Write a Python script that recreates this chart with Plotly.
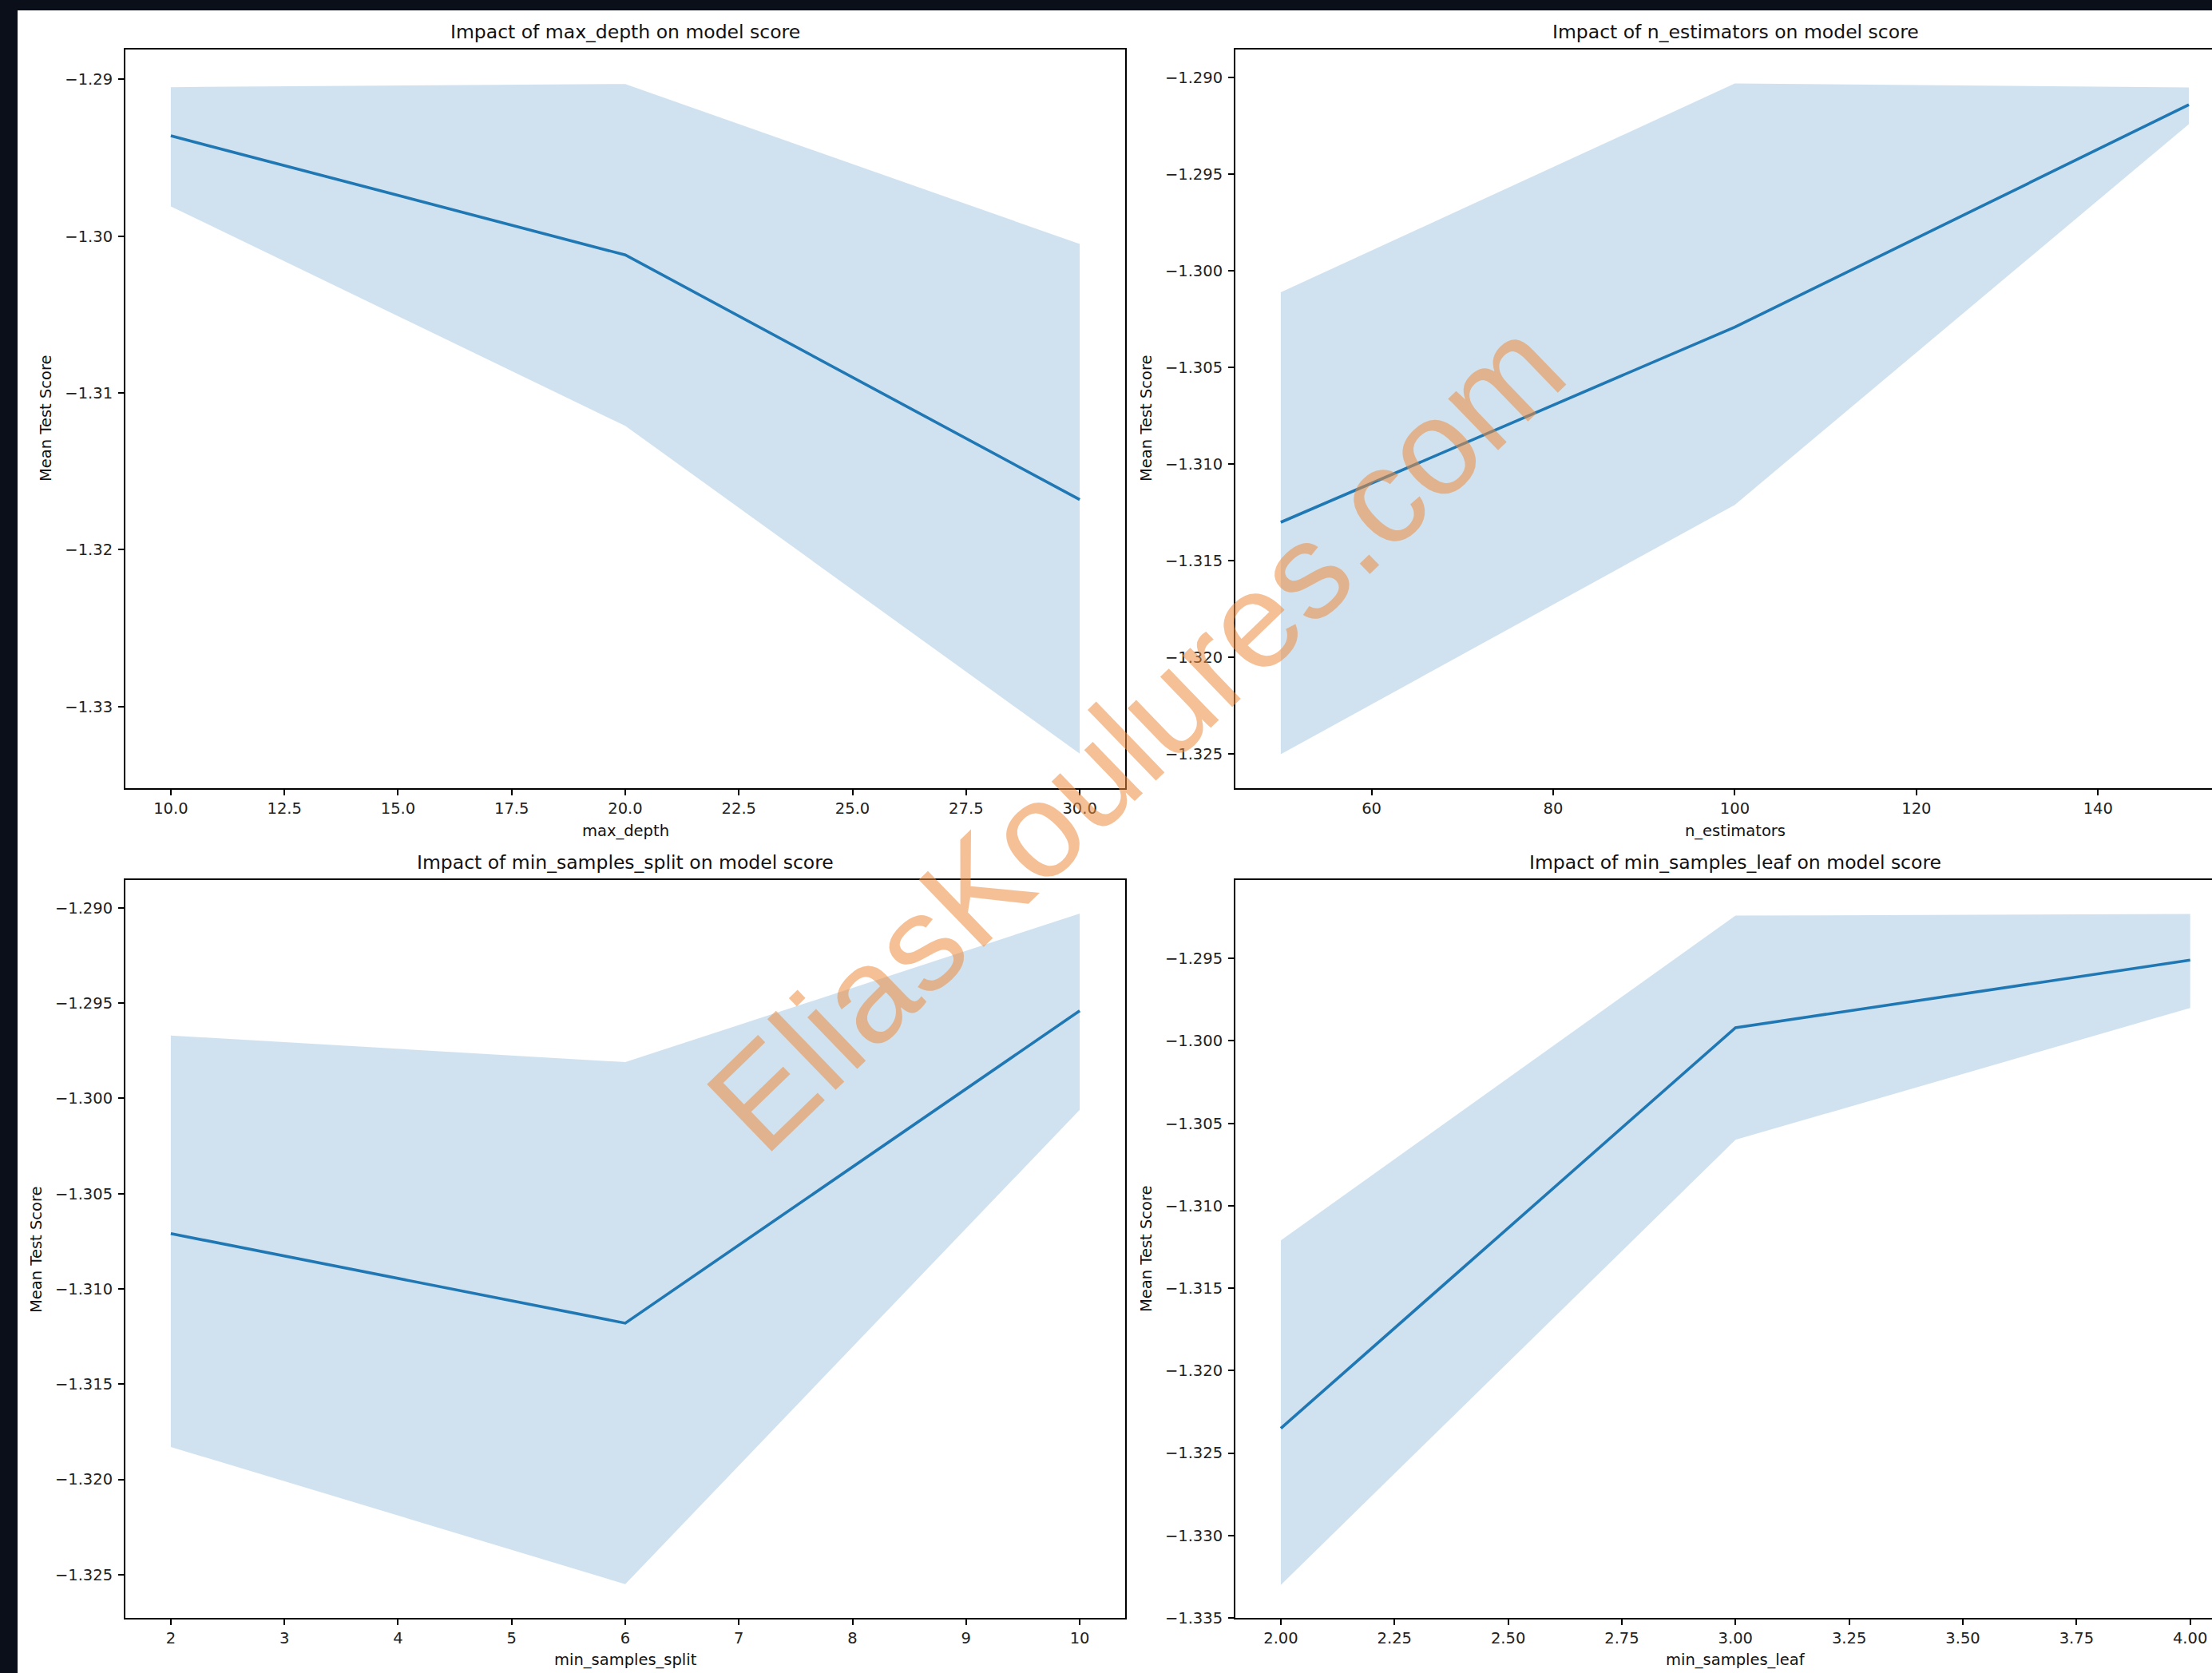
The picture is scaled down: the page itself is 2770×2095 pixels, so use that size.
import plotly.graph_objects as go

W, H = 2770, 2095

# ---------------- data ----------------
MAX_DEPTH = [10, 20, 30]
MAX_DEPTH_MEAN = [-1.2936, -1.3012, -1.3168]
MAX_DEPTH_UPPER = [-1.2905, -1.2903, -1.3005]
MAX_DEPTH_LOWER = [-1.2981, -1.3121, -1.3330]

N_EST = [50, 100, 150]
N_EST_MEAN = [-1.3130, -1.3029, -1.2914]
N_EST_UPPER = [-1.3011, -1.2903, -1.2905]
N_EST_LOWER = [-1.3250, -1.3121, -1.2924]

MSS = [2, 6, 10]
MSS_MEAN = [-1.3071, -1.3118, -1.2954]
MSS_UPPER = [-1.2967, -1.2981, -1.2903]
MSS_LOWER = [-1.3183, -1.3255, -1.3006]

MSL = [2, 3, 4]
MSL_MEAN = [-1.3235, -1.2992, -1.2951]
MSL_UPPER = [-1.3121, -1.2924, -1.2923]
MSL_LOWER = [-1.3330, -1.3060, -1.2980]

# ---------------- tick labels ----------------
TL_XTICKS = [10, 12.5, 15, 17.5, 20, 22.5, 25, 27.5, 30]
TL_XTEXT = ["10.0", "12.5", "15.0", "17.5", "20.0", "22.5", "25.0", "27.5", "30.0"]
TL_YTICKS = [-1.29, -1.30, -1.31, -1.32, -1.33]
TL_YTEXT = ["\u22121.29", "\u22121.30", "\u22121.31", "\u22121.32", "\u22121.33"]

TR_XTICKS = [60, 80, 100, 120, 140]
TR_XTEXT = ["60", "80", "100", "120", "140"]
TR_YTICKS = [-1.290, -1.295, -1.300, -1.305, -1.310, -1.315, -1.320, -1.325]
TR_YTEXT = ["\u22121.290", "\u22121.295", "\u22121.300", "\u22121.305",
            "\u22121.310", "\u22121.315", "\u22121.320", "\u22121.325"]

BL_XTICKS = [2, 3, 4, 5, 6, 7, 8, 9, 10]
BL_XTEXT = ["2", "3", "4", "5", "6", "7", "8", "9", "10"]
BL_YTICKS = TR_YTICKS
BL_YTEXT = TR_YTEXT

BR_XTICKS = [2.0, 2.25, 2.5, 2.75, 3.0, 3.25, 3.5, 3.75, 4.0]
BR_XTEXT = ["2.00", "2.25", "2.50", "2.75", "3.00", "3.25", "3.50", "3.75", "4.00"]
BR_YTICKS = [-1.295, -1.300, -1.305, -1.310, -1.315, -1.320, -1.325, -1.330, -1.335]
BR_YTEXT = ["\u22121.295", "\u22121.300", "\u22121.305", "\u22121.310", "\u22121.315",
            "\u22121.320", "\u22121.325", "\u22121.330", "\u22121.335"]

TITLES = ["Impact of max_depth on model score",
          "Impact of n_estimators on model score",
          "Impact of min_samples_split on model score",
          "Impact of min_samples_leaf on model score"]
XLABELS = ["max_depth", "n_estimators", "min_samples_split", "min_samples_leaf"]
YLABEL = "Mean Test Score"
WATERMARK = "EliasKoulures.com"

LINE_C = "#1f77b4"
FILL_C = "rgba(31,119,180,0.21)"
FONT = "DejaVu Sans"


def px_x(p):
    return p / W


def px_y(p):
    return 1 - p / H


fig = go.Figure()

panels = [
    (MAX_DEPTH, MAX_DEPTH_MEAN, MAX_DEPTH_UPPER, MAX_DEPTH_LOWER, ""),
    (N_EST, N_EST_MEAN, N_EST_UPPER, N_EST_LOWER, "2"),
    (MSS, MSS_MEAN, MSS_UPPER, MSS_LOWER, "3"),
    (MSL, MSL_MEAN, MSL_UPPER, MSL_LOWER, "4"),
]

for xs, mean, up, lo, s in panels:
    fig.add_trace(go.Scatter(
        x=list(xs) + list(xs)[::-1], y=list(up) + list(lo)[::-1],
        fill="toself", fillcolor=FILL_C, line=dict(width=0), mode="lines",
        hoverinfo="skip", showlegend=False, xaxis="x" + s, yaxis="y" + s))
    fig.add_trace(go.Scatter(
        x=xs, y=mean, mode="lines", line=dict(color=LINE_C, width=3.6),
        showlegend=False, xaxis="x" + s, yaxis="y" + s))

# panel geometry (pixels)
LEFT_X = (157, 1409)
RIGHT_X = (1547, 2770)
TOP_Y = (62, 987)
BOT_Y = (1102, 2026)

common = dict(showline=True, linecolor="black", linewidth=2,
              ticks="outside", ticklen=7, tickwidth=2, tickcolor="black",
              showgrid=False, zeroline=False, automargin=False,
              tickfont=dict(family=FONT, size=19.5, color="#222222"))


def xax(dom, rng, tv, tt, anchor, mirror=True):
    d = dict(common)
    d.update(domain=[px_x(dom[0]), px_x(dom[1])], range=rng, tickmode="array",
             tickvals=tv, ticktext=tt, anchor=anchor, mirror=mirror,
             ticklabelstandoff=0)
    return d


def yax(dom, rng, tv, tt, anchor, mirror=True):
    d = dict(common)
    d.update(domain=[px_y(dom[1]), px_y(dom[0])], range=rng, tickmode="array",
             tickvals=tv, ticktext=tt, anchor=anchor, mirror=mirror,
             ticklabelstandoff=3)
    return d


fig.update_layout(
    xaxis=xax(LEFT_X, [9, 31], TL_XTICKS, TL_XTEXT, "y"),
    yaxis=yax(TOP_Y, [-1.3352, -1.2881], TL_YTICKS, TL_YTEXT, "x"),
    xaxis2=xax(RIGHT_X, [45, 152.55], TR_XTICKS, TR_XTEXT, "y2"),
    yaxis2=yax(TOP_Y, [-1.32676, -1.28854], TR_YTICKS, TR_YTEXT, "x2", mirror=False),
    xaxis3=xax(LEFT_X, [1.6, 10.4], BL_XTICKS, BL_XTEXT, "y3"),
    yaxis3=yax(BOT_Y, [-1.32727, -1.28854], BL_YTICKS, BL_YTEXT, "x3"),
    xaxis4=xax(RIGHT_X, [1.9, 4.048], BR_XTICKS, BR_XTEXT, "y4"),
    yaxis4=yax(BOT_Y, [-1.33500, -1.29024], BR_YTICKS, BR_YTEXT, "x4", mirror=False),
)

annotations = []
title_pos = [(783, 40), (2173, 40), (783, 1080), (2173, 1080)]
xlabel_pos = [(783, 1040), (2173, 1040), (783, 2078), (2173, 2078)]
ylabel_pos = [(57, 524), (1435, 524), (45, 1564), (1435, 1564)]
for i in range(4):
    tx, ty = title_pos[i]
    annotations.append(dict(text=TITLES[i], x=px_x(tx), y=px_y(ty), xref="paper", yref="paper",
                            xanchor="center", yanchor="middle", showarrow=False,
                            font=dict(family=FONT, size=23.5, color="#111111")))
    lx, ly = xlabel_pos[i]
    annotations.append(dict(text=XLABELS[i], x=px_x(lx), y=px_y(ly), xref="paper", yref="paper",
                            xanchor="center", yanchor="middle", showarrow=False,
                            font=dict(family=FONT, size=19.5, color="#111111")))
    yx, yy = ylabel_pos[i]
    annotations.append(dict(text=YLABEL, x=px_x(yx), y=px_y(yy), xref="paper", yref="paper",
                            xanchor="center", yanchor="middle", showarrow=False, textangle=-90,
                            font=dict(family=FONT, size=19.5, color="#111111")))

annotations.append(dict(text=WATERMARK, x=px_x(1422), y=px_y(920), xref="paper", yref="paper",
                        xanchor="center", yanchor="middle", showarrow=False, textangle=-44,
                        font=dict(family="Liberation Sans", size=170,
                                  color="rgba(236,140,62,0.55)")))

fig.update_layout(
    width=W, height=H, autosize=False,
    margin=dict(l=0, r=0, t=0, b=0, pad=0, autoexpand=False),
    paper_bgcolor="#0b0f19", plot_bgcolor="white",
    annotations=annotations,
    shapes=[dict(type="rect", xref="paper", yref="paper", x0=px_x(22), x1=1.0,
                 y0=0, y1=px_y(13), fillcolor="white", line=dict(width=0), layer="below")],
    showlegend=False,
)

POST = """
var h = document.documentElement, b = document.body;
[h, b].forEach(function (e) {
  e.style.margin = '0'; e.style.padding = '0'; e.style.overflow = 'hidden';
});
b.style.background = '#ffffff';
"""

fig.write_html("out.html", config={"displayModeBar": False, "staticPlot": True},
               post_script=POST)
